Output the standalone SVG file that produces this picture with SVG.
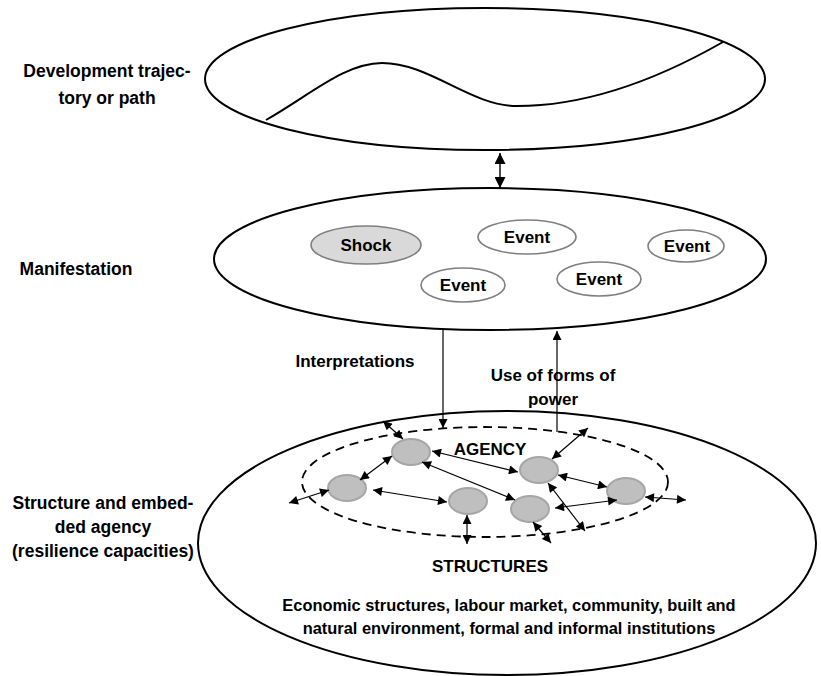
<svg xmlns="http://www.w3.org/2000/svg" width="821" height="676" viewBox="0 0 821 676">
<style>
text{font-family:"Liberation Sans",Arial,sans-serif;font-weight:700;fill:#000}
.lbl{font-size:17.5px;text-anchor:middle}
.lbl2{font-size:17px;text-anchor:middle}
.sm{font-size:16.4px;text-anchor:middle}
.big{fill:#fff;stroke:#000;stroke-width:2}
.ev{fill:#fff;stroke:#7f7f7f;stroke-width:1.6}
.shock{fill:#d9d9d9;stroke:#7f7f7f;stroke-width:1.6}
.ag{fill:#bfbfbf;stroke:#a6a6a6;stroke-width:2}
.c{stroke:#000;stroke-width:1.2;fill:none;marker-start:url(#ah);marker-end:url(#ah)}
.c1{stroke:#000;stroke-width:1.2;fill:none;marker-end:url(#ah)}
.cb{stroke:#000;stroke-width:1.4;fill:none;marker-start:url(#ahb);marker-end:url(#ahb)}
</style>
<defs>
<marker id="ah" viewBox="0 0 10 10" refX="10" refY="5" markerWidth="11" markerHeight="9" orient="auto-start-reverse" markerUnits="userSpaceOnUse"><path d="M0,0 L10,5 L0,10 z" fill="#000"/></marker>
<marker id="ahb" viewBox="0 0 10 10" refX="10" refY="5" markerWidth="12" markerHeight="11" orient="auto-start-reverse" markerUnits="userSpaceOnUse"><path d="M0,0 L10,5 L0,10 z" fill="#000"/></marker>
</defs>
<rect width="821" height="676" fill="#fff"/>

<g id="labels">
<text class="lbl" x="107" y="77">Development trajec-</text>
<text class="lbl" x="107" y="104">tory or path</text>
<text class="lbl" x="76" y="275">Manifestation</text>
<text class="lbl" x="103" y="509">Structure and embed-</text>
<text class="lbl" x="103" y="533">ded agency</text>
<text class="lbl" x="103" y="557">(resilience capacities)</text>
</g>

<g id="trajectory">
<ellipse class="big" cx="485" cy="79" rx="280" ry="71"/>
<path d="M266,120 C310,95 345,63 382,63 C430,63 470,106 517,106 C590,106 660,78 723,42" fill="none" stroke="#000" stroke-width="2"/>
</g>

<g id="manifestation">
<ellipse class="big" cx="490" cy="259" rx="276" ry="71"/>
</g>
<g id="shock"><ellipse class="shock" cx="366" cy="245" rx="55" ry="19"/><text class="lbl2" x="366" y="251">Shock</text></g>
<g id="event1"><ellipse class="ev" cx="527" cy="237" rx="49" ry="17"/><text class="lbl2" x="527" y="243">Event</text></g>
<g id="event2"><ellipse class="ev" cx="686" cy="246" rx="38" ry="16"/><text class="lbl2" x="687" y="252">Event</text></g>
<g id="event3"><ellipse class="ev" cx="599" cy="279" rx="42" ry="17"/><text class="lbl2" x="599" y="285">Event</text></g>
<g id="event4"><ellipse class="ev" cx="463" cy="285" rx="42" ry="17"/><text class="lbl2" x="463" y="291">Event</text></g>

<g id="structure">
<ellipse class="big" cx="507" cy="543" rx="309" ry="132"/>
<ellipse cx="485" cy="482" rx="183" ry="55" fill="none" stroke="#000" stroke-width="1.8" stroke-dasharray="9,6"/>
<text class="lbl2" x="490" y="455">AGENCY</text>
<text class="lbl2" x="490" y="572">STRUCTURES</text>
<text class="sm" x="509" y="611">Economic structures, labour market, community, built and</text>
<text class="sm" x="509" y="634">natural environment, formal and informal institutions</text>
</g>

<g id="agentA"><ellipse class="ag" cx="411" cy="452" rx="19" ry="13"/></g>
<g id="agentB"><ellipse class="ag" cx="347" cy="488" rx="19" ry="13"/></g>
<g id="agentC"><ellipse class="ag" cx="468" cy="501" rx="19" ry="13"/></g>
<g id="agentD"><ellipse class="ag" cx="539" cy="470" rx="19" ry="13"/></g>
<g id="agentE"><ellipse class="ag" cx="530" cy="509" rx="19" ry="13"/></g>
<g id="agentF"><ellipse class="ag" cx="626" cy="491" rx="19" ry="13"/></g>

<g id="connectors">
<line class="cb" x1="500" y1="153" x2="500" y2="188"/>
<line class="c1" x1="443" y1="330" x2="443" y2="428"/>
<line class="c1" x1="557" y1="432" x2="557" y2="331"/>
<text class="lbl2" x="355" y="367">Interpretations</text>
<text class="lbl2" x="553" y="381">Use of forms of</text>
<text class="lbl2" x="553" y="405">power</text>
<line class="c" x1="383" y1="421" x2="403" y2="439"/>
<line class="c" x1="392" y1="456" x2="360" y2="480"/>
<line class="c" x1="432" y1="451" x2="518" y2="472"/>
<line class="c" x1="422" y1="462" x2="515" y2="500"/>
<line class="c" x1="289" y1="503" x2="329" y2="490"/>
<line class="c" x1="373" y1="490" x2="447" y2="502"/>
<line class="c" x1="467" y1="515" x2="467" y2="544"/>
<line class="c" x1="588" y1="428" x2="552" y2="459"/>
<line class="c" x1="558" y1="475" x2="607" y2="487"/>
<line class="c" x1="548" y1="483" x2="585" y2="531"/>
<line class="c" x1="555" y1="508" x2="617" y2="500"/>
<line class="c" x1="533" y1="522" x2="551" y2="543"/>
<line class="c" x1="645" y1="497" x2="686" y2="500"/>
</g>
</svg>
